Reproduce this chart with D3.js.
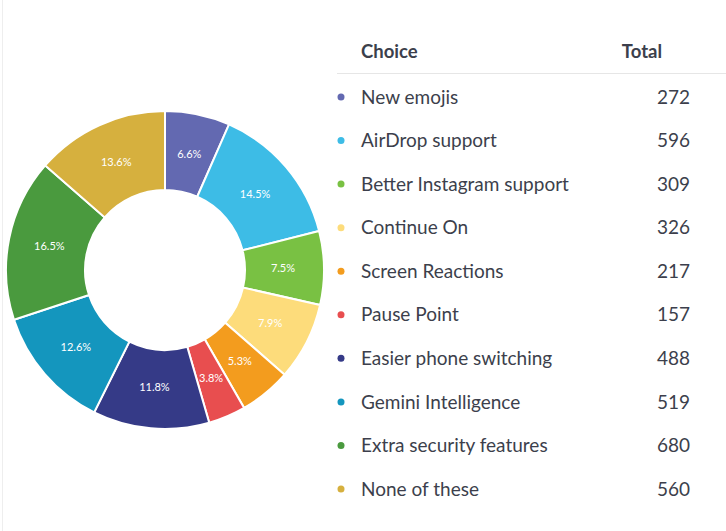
<!doctype html>
<html lang="en">
<head>
  <meta charset="utf-8">
  <title>Poll results</title>
  <style>
    body { margin: 0; background: #fff; font-family: Lato, "Open Sans", sans-serif; }
    svg { display: block; }
    .slice { stroke: #fff; stroke-width: 2; }
    .pct { fill: #fff; font-size: 11px; }
    .row text { fill: #3c3f4c; font-size: 19px; }
    .head { fill: #3c3f4c; font-size: 18.5px; font-weight: bold; }
  </style>
</head>
<body>
  <script src="https://cdn.jsdelivr.net/npm/d3@7/dist/d3.min.js"></script>
  <script>

  // poll data
  var choices = ["New emojis", "AirDrop support", "Better Instagram support", "Continue On",
    "Screen Reactions", "Pause Point", "Easier phone switching", "Gemini Intelligence",
    "Extra security features", "None of these"];
  var totals = [272, 596, 309, 326, 217, 157, 488, 519, 680, 560];
  var colors = ["#6369b1", "#3dbce6", "#79c143", "#fddc7b", "#f39c1e",
    "#e84e4f", "#353a87", "#1496be", "#4a9a3e", "#d6b03e"];

  var width = 726, height = 531;

  var data = choices.map(function(c, i){
    return { name: c, total: totals[i], color: colors[i] };
  });
  var sum = d3.sum(totals);

  var svg = d3.select("body").append("svg")
      .attr("width", width)
      .attr("height", height);

  // faint container edge on the left
  svg.append("line")
      .attr("x1", 2.5).attr("x2", 2.5)
      .attr("y1", 0).attr("y2", height)
      .attr("stroke", "#eeeeee");

  // donut
  var outerR = 159, innerR = 80;
  var pie = d3.pie().sort(null).value(function(d){ return d.total; });
  var arc = d3.arc().innerRadius(innerR).outerRadius(outerR);
  var labelArc = d3.arc().innerRadius(118).outerRadius(118);

  var g = svg.append("g").attr("transform", "translate(165,270)");

  var arcs = pie(data);

  g.selectAll("path").data(arcs).enter().append("path")
      .attr("class", "slice")
      .attr("d", arc)
      .attr("fill", function(d){ return d.data.color; });

  g.selectAll("text").data(arcs).enter().append("text")
      .attr("class", "pct")
      .attr("transform", function(d){ return "translate(" + labelArc.centroid(d) + ")"; })
      .attr("text-anchor", "middle")
      .attr("dy", "0.35em")
      .text(function(d){ return d3.format(".1f")(d.data.total / sum * 100) + "%"; });

  // legend table
  var y = d3.scalePoint().domain(choices).range([97, 489]);

  svg.append("text").attr("class", "head")
      .attr("x", 361).attr("y", 58).text("Choice");
  svg.append("text").attr("class", "head")
      .attr("x", 662).attr("y", 58).attr("text-anchor", "end").text("Total");
  svg.append("line")
      .attr("x1", 337).attr("x2", width)
      .attr("y1", 73.5).attr("y2", 73.5)
      .attr("stroke", "#e6e6e6");

  var row = svg.selectAll(".row").data(data).enter().append("g")
      .attr("class", "row")
      .attr("transform", function(d){ return "translate(0," + y(d.name) + ")"; });

  row.append("circle")
      .attr("cx", 341).attr("cy", 0).attr("r", 3.5)
      .attr("fill", function(d){ return d.color; });
  row.append("text")
      .attr("x", 361).attr("dy", "0.35em")
      .text(function(d){ return d.name; });
  row.append("text")
      .attr("x", 690).attr("dy", "0.35em")
      .attr("text-anchor", "end")
      .text(function(d){ return d.total; });

  </script>
</body>
</html>
